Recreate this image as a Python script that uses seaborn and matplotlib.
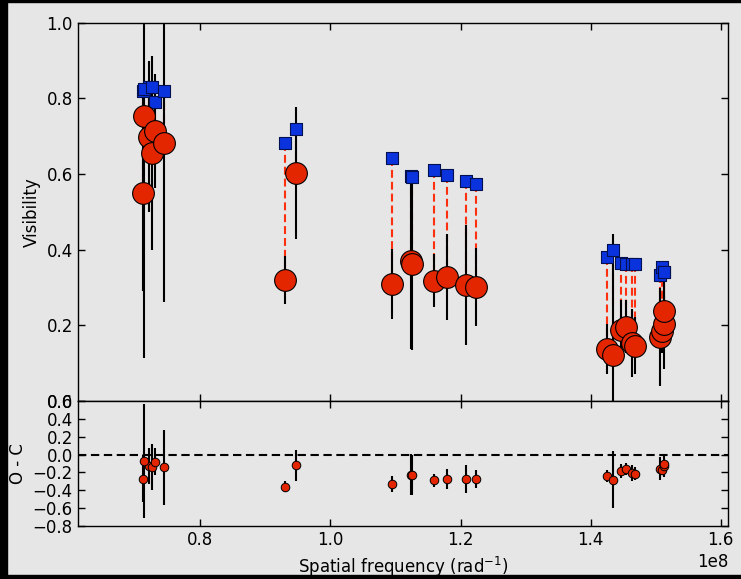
import numpy as np
import pandas as pd
import matplotlib
matplotlib.use("Agg")
import matplotlib.pyplot as plt
import seaborn as sns
from matplotlib.patches import Rectangle
from matplotlib.ticker import MultipleLocator

# ---- data ----
freq = [0.7208e8, 0.7118e8, 0.7128e8, 0.7257e8, 0.7297e8, 0.7435e8,
        0.9295e8, 0.9466e8, 1.0949e8, 1.1246e8, 1.1257e8, 1.1592e8,
        1.1789e8, 1.2088e8, 1.2238e8, 1.4246e8, 1.4349e8, 1.4472e8,
        1.4549e8, 1.4642e8, 1.4682e8, 1.5066e8, 1.5103e8, 1.5128e8, 1.5132e8]
vis_obs = [0.698, 0.549, 0.753, 0.655, 0.714, 0.682,
           0.320, 0.603, 0.309, 0.370, 0.363, 0.318,
           0.327, 0.307, 0.301, 0.137, 0.122, 0.186,
           0.196, 0.152, 0.146, 0.168, 0.185, 0.203, 0.237]
vis_err = [0.20, 0.26, 0.64, 0.257, 0.15, 0.42,
           0.064, 0.175, 0.093, 0.232, 0.228, 0.07,
           0.113, 0.159, 0.103, 0.066, 0.32, 0.08,
           0.07, 0.09, 0.075, 0.13, 0.06, 0.12, 0.05]
vis_model = [0.830, 0.820, 0.825, 0.830, 0.790, 0.820,
             0.681, 0.720, 0.643, 0.595, 0.591, 0.610,
             0.597, 0.581, 0.573, 0.379, 0.398, 0.364,
             0.363, 0.363, 0.362, 0.333, 0.354, 0.340, 0.340]
resid = [-0.13, -0.27, -0.07, -0.14, -0.08, -0.14,
         -0.36, -0.12, -0.33, -0.225, -0.23, -0.29,
         -0.27, -0.27, -0.27, -0.24, -0.28, -0.18,
         -0.16, -0.21, -0.215, -0.16, -0.17, -0.13, -0.10]

vis_ticks = [0.0, 0.2, 0.4, 0.6, 0.8, 1.0]
res_ticks = [-0.8, -0.6, -0.4, -0.2, 0.0, 0.2, 0.4, 0.6]

df = pd.DataFrame({"freq": freq, "obs": vis_obs, "err": vis_err,
                   "model": vis_model, "resid": resid})

# ---- style ----
sns.set_style("ticks")
BG = "#e6e6e6"
plt.rcParams.update({
    "font.family": ["DejaVu Sans"],
    "font.size": 12,
    "axes.facecolor": BG,
    "figure.facecolor": BG,
    "axes.edgecolor": "black",
    "axes.linewidth": 1.0,
    "xtick.color": "black",
    "ytick.color": "black",
    "text.color": "black",
    "axes.labelcolor": "black",
})

RED = "#e42600"
BLUE = "#0a33dd"

fig = plt.figure(figsize=(7.41, 5.79), dpi=100, facecolor=BG)
ax1 = fig.add_axes([0.1049, 0.3079, 0.878, 0.6529])
ax2 = fig.add_axes([0.1049, 0.0915, 0.878, 0.2159])

xlim = (0.6115e8, 1.6117e8)

# ---- top panel ----
ax1.vlines(df["freq"], df["model"], df["obs"], colors="#ff3010",
           linestyles=(0, (3.8, 1.9)), linewidth=1.5, zorder=1)
ax1.errorbar(df["freq"], df["obs"], yerr=df["err"], fmt="none",
             ecolor="black", elinewidth=1.5, capsize=0, zorder=2)
sns.scatterplot(data=df, x="freq", y="model", marker="s", s=70,
                color=BLUE, edgecolor="#001050", linewidth=0.8,
                zorder=3, ax=ax1, legend=False)
sns.scatterplot(data=df, x="freq", y="obs", marker="o", s=245,
                color=RED, edgecolor="black", linewidth=0.8,
                zorder=4, ax=ax1, legend=False)
ax1.set_xlim(*xlim)
ax1.set_ylim(0.0, 1.0)
ax1.set_yticks(vis_ticks)
ax1.set_yticklabels([f"{t:.1f}" for t in vis_ticks])
ax1.xaxis.set_major_locator(MultipleLocator(0.2e8))
ax1.tick_params(labelbottom=False)
ax1.xaxis.get_offset_text().set_visible(False)
ax1.set_xlabel("")
ax1.set_ylabel("Visibility", fontsize=12)

# ---- bottom panel ----
ax2.axhline(0.0, color="black", linestyle=(0, (4, 2.2)), linewidth=1.5, zorder=1)
ax2.errorbar(df["freq"], df["resid"], yerr=df["err"], fmt="none",
             ecolor="black", elinewidth=1.5, capsize=0, zorder=2)
sns.scatterplot(data=df, x="freq", y="resid", marker="o", s=38,
                color=RED, edgecolor="black", linewidth=0.7,
                zorder=3, ax=ax2, legend=False)
ax2.set_xlim(*xlim)
ax2.set_ylim(-0.8, 0.6)
ax2.set_yticks(res_ticks)
ax2.set_yticklabels([f"{t:.1f}".replace("-", "\u2212") for t in res_ticks])
ax2.xaxis.set_major_locator(MultipleLocator(0.2e8))
ax2.set_xlabel(r"Spatial frequency (rad$^{-1}$)", fontsize=12)
ax2.set_ylabel("O - C", fontsize=12)

for ax in (ax1, ax2):
    ax.tick_params(direction="in", top=True, right=True, length=5,
                   width=1, labelsize=12, colors="black")
    for sp in ax.spines.values():
        sp.set_visible(True)
        sp.set_color("black")
        sp.set_linewidth(1.0)
    ax.set_facecolor(BG)
ax2.xaxis.get_offset_text().set_fontsize(12)

# black screenshot border strips
fig.patches.append(Rectangle((0, 0), 7 / 741, 1, transform=fig.transFigure,
                             color="black", zorder=0))
fig.patches.append(Rectangle((0, 1 - 2 / 579), 1, 2 / 579, transform=fig.transFigure,
                             color="black", zorder=0))
fig.patches.append(Rectangle((0, 0), 1, 4 / 579, transform=fig.transFigure,
                             color="black", zorder=0))

fig.savefig("out.png", dpi=100, facecolor=BG)
